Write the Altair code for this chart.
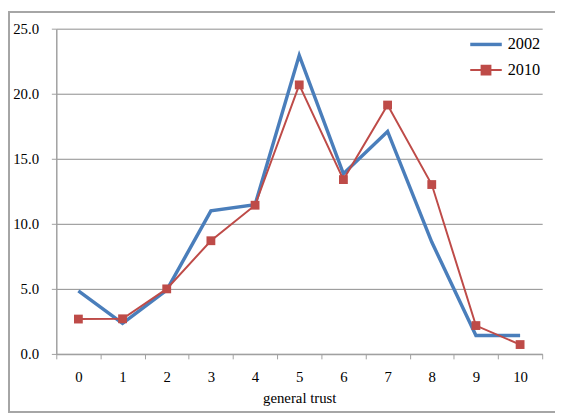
import altair as alt
import pandas as pd

categories = ["0", "1", "2", "3", "4", "5", "6", "7", "8", "9", "10"]
series_names = ["2002", "2010"]
values_2002 = [4.85, 2.35, 4.9, 11.0, 11.47, 22.95, 13.85, 17.1, 8.6, 1.42, 1.42]
values_2010 = [2.68, 2.7, 5.0, 8.7, 11.43, 20.68, 13.4, 19.13, 13.02, 2.18, 0.72]
y_ticks = [0, 5, 10, 15, 20, 25]

colors = ["#4A7EBB", "#BE4B48"]
widths = [3.5, 2.0]
legend_paths = [
    "M-1,0L1,0",
    "M-1,0L1,0M-0.28,-0.28L0.28,-0.28L0.28,0.28L-0.28,0.28Z",
]

rows = []
for s, vals in zip(series_names, [values_2002, values_2010]):
    for c, v in zip(categories, vals):
        rows.append({"trust": c, "value": v, "series": s})
df = pd.DataFrame(rows)

W, H = 493, 330
PL, PT, PR, PB = 49, 18, 13, 60
FONT = "Liberation Serif"

x_enc = alt.X(
    "trust:O",
    sort=categories,
    scale=alt.Scale(paddingInner=0, paddingOuter=0),
    axis=alt.Axis(
        title="general trust",
        labelAngle=0,
        tickBand="extent",
        tickSize=5,
        labelPadding=11,
        titlePadding=6,
        grid=False,
        domainColor="#a0a0a0",
        tickColor="#a0a0a0",
        domainWidth=1.5,
        labelFont=FONT,
        titleFont=FONT,
        labelFontSize=15,
        titleFontSize=15,
        titleFontWeight="normal",
        labelColor="#000000",
        titleColor="#000000",
    ),
)
y_enc = alt.Y(
    "value:Q",
    scale=alt.Scale(domain=[0, 25], nice=False),
    axis=alt.Axis(
        title=None,
        values=y_ticks,
        format=".1f",
        tickSize=5,
        labelPadding=13,
        grid=True,
        gridColor="#8c8c8c",
        domainColor="#a0a0a0",
        tickColor="#a0a0a0",
        domainWidth=1.5,
        labelFont=FONT,
        labelFontSize=15,
        labelColor="#000000",
    ),
)

line_2002 = alt.Chart(df).transform_filter(alt.datum.series == "2002").mark_line(
    color=colors[0], strokeWidth=widths[0]
).encode(x=x_enc, y=y_enc)

line_2010 = alt.Chart(df).transform_filter(alt.datum.series == "2010").mark_line(
    color=colors[1], strokeWidth=widths[1]
).encode(x=x_enc, y=y_enc)

markers = alt.Chart(df).transform_filter(alt.datum.series == "2010").mark_point(
    shape="square", filled=True, size=80, opacity=1, color=colors[1]
).encode(x=x_enc, y=y_enc)

legend = alt.Legend(
    title=None,
    orient="none",
    legendX=418,
    legendY=-2,
    labelFont=FONT,
    labelFontSize=16.5,
    labelColor="#000000",
    symbolSize=1024,
    labelOffset=4,
    rowPadding=-4,
    symbolOpacity=1,
)
legend_layer = alt.Chart(df).transform_filter("false").mark_point(filled=True, opacity=1).encode(
    x=x_enc,
    y=y_enc,
    shape=alt.Shape("series:N", scale=alt.Scale(domain=series_names, range=legend_paths), legend=legend),
    fill=alt.Fill("series:N", scale=alt.Scale(domain=series_names, range=colors), legend=legend),
    stroke=alt.Stroke("series:N", scale=alt.Scale(domain=series_names, range=colors), legend=legend),
    strokeWidth=alt.StrokeWidth("series:N", scale=alt.Scale(domain=series_names, range=widths), legend=legend),
)

border_color = "#a6a6a6"
border_left = alt.Chart(df).mark_rule(color=border_color, strokeWidth=1.5).encode(
    x=alt.value(-PL + 0.75), y=alt.value(-PT + 0.5), y2=alt.value(H + PB - 1)
)
border_top = alt.Chart(df).mark_rule(color=border_color, strokeWidth=1.5).encode(
    x=alt.value(-PL), x2=alt.value(W + PR), y=alt.value(-PT + 0.75)
)
border_bottom = alt.Chart(df).mark_rule(color=border_color, strokeWidth=1.5).encode(
    x=alt.value(-PL), x2=alt.value(W + PR), y=alt.value(H + PB - 1)
)

chart = alt.layer(
    border_left, border_top, border_bottom, line_2002, line_2010, markers, legend_layer
).properties(
    width=W,
    height=H,
    padding={"left": PL, "top": PT, "right": PR, "bottom": PB},
    autosize=alt.AutoSizeParams(type="none"),
    background="#ffffff",
).configure_view(stroke=None)

chart.save("out.html", embed_options={"renderer": "svg", "actions": False})
